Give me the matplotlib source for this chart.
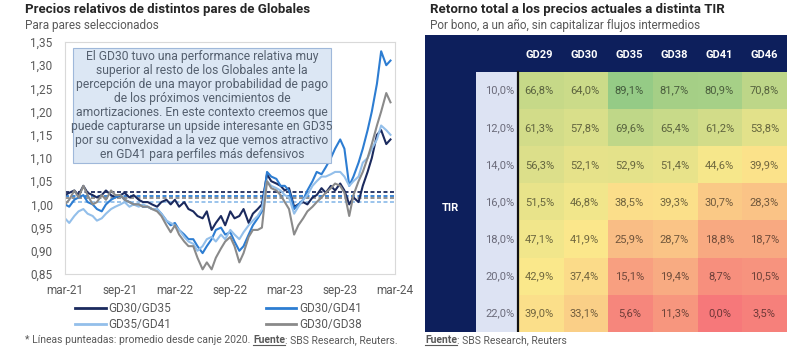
import numpy as np
import pandas as pd
import matplotlib
matplotlib.use('Agg')
import matplotlib.pyplot as plt
from matplotlib.colors import LinearSegmentedColormap, TwoSlopeNorm, to_rgb
from matplotlib.patches import Rectangle
from matplotlib.lines import Line2D
from matplotlib.ticker import FuncFormatter

plt.rcParams['font.family'] = ['Roboto', 'DejaVu Sans']

# ---- left chart data (semi-monthly readings, mar-21 .. feb-24) ----
dates = pd.date_range('2021-03-01', periods=72, freq='SMS')

gd30_gd35 = [1.020, 1.025, 1.030, 1.020, 1.040, 1.025, 1.020, 1.015, 1.020, 1.030, 1.020, 1.015,
             1.020, 1.025, 1.015, 1.020, 1.010, 1.005, 1.005, 1.000, 0.995, 1.005, 1.010, 1.000,
             1.010, 0.995, 1.005, 0.990, 0.985, 0.975, 0.970, 0.985, 0.945, 0.960, 0.975, 0.955,
             0.985, 0.970, 0.975, 0.990, 0.960, 0.980, 0.990, 1.000, 1.065, 1.050, 1.045, 1.040,
             1.030, 1.035, 0.995, 1.000, 1.005, 1.000, 1.015, 1.020, 1.035, 1.025, 1.040, 1.030,
             1.045, 1.030, 1.000, 1.015, 1.005, 1.040, 1.070, 1.100, 1.150, 1.160, 1.130, 1.140]
gd30_gd41 = [1.000, 0.995, 1.010, 1.015, 1.020, 1.005, 1.000, 0.990, 0.985, 1.000, 1.010, 1.015,
             1.020, 1.010, 1.005, 1.000, 1.000, 0.995, 0.995, 0.990, 0.990, 0.980, 0.965, 0.955,
             0.960, 0.945, 0.935, 0.925, 0.925, 0.910, 0.895, 0.910, 0.925, 0.945, 0.950, 0.935,
             0.940, 0.920, 0.900, 0.910, 0.935, 0.955, 0.970, 0.985, 1.070, 1.060, 1.055, 1.040,
             1.040, 1.030, 0.990, 1.000, 1.010, 1.030, 1.050, 1.070, 1.065, 1.080, 1.100, 1.120,
             1.140, 1.120, 1.040, 1.060, 1.090, 1.120, 1.160, 1.200, 1.260, 1.330, 1.300, 1.310]
gd35_gd41 = [0.970, 0.960, 0.975, 0.985, 0.990, 0.980, 0.975, 0.965, 0.970, 0.980, 0.990, 0.995,
             1.000, 1.005, 0.995, 1.000, 0.995, 1.000, 0.995, 0.990, 0.990, 0.980, 0.965, 0.960,
             0.955, 0.945, 0.930, 0.920, 0.915, 0.900, 0.910, 0.925, 0.930, 0.920, 0.935, 0.925,
             0.945, 0.935, 0.925, 0.940, 0.955, 0.965, 0.975, 0.990, 1.050, 1.040, 1.035, 1.030,
             1.020, 1.015, 0.980, 0.995, 1.010, 1.020, 1.040, 1.050, 1.060, 1.060, 1.065, 1.070,
             1.070, 1.060, 1.040, 1.050, 1.060, 1.090, 1.100, 1.120, 1.140, 1.170, 1.160, 1.150]
gd30_gd38 = [1.000, 1.010, 1.030, 1.015, 1.040, 1.020, 1.000, 1.005, 1.020, 1.010, 1.030, 1.020,
             1.020, 1.010, 1.005, 1.000, 1.000, 0.995, 0.995, 0.990, 0.985, 0.975, 0.955, 0.940,
             0.955, 0.935, 0.920, 0.910, 0.910, 0.885, 0.860, 0.875, 0.860, 0.885, 0.905, 0.920,
             0.930, 0.910, 0.875, 0.895, 0.930, 0.945, 0.945, 0.950, 1.050, 1.035, 1.030, 1.020,
             1.005, 0.990, 0.935, 0.955, 0.970, 0.985, 0.995, 1.005, 1.015, 1.025, 1.035, 1.045,
             1.040, 1.025, 0.975, 1.020, 1.050, 1.070, 1.100, 1.130, 1.170, 1.200, 1.240, 1.220]

# promedio desde canje 2020 (dotted lines)
mean_gd30_gd35 = 1.027
mean_gd30_gd41 = 1.019
mean_gd35_gd41 = 1.005
mean_gd30_gd38 = 1.013

xtick_dates = pd.to_datetime(['2021-03-01', '2021-09-01', '2022-03-01', '2022-09-01',
                              '2023-03-01', '2023-09-01', '2024-03-01'])
xtick_labels = ['mar-21', 'sep-21', 'mar-22', 'sep-22', 'mar-23', 'sep-23', 'mar-24']

# ---- right table data ----
bonds = ['GD29', 'GD30', 'GD35', 'GD38', 'GD41', 'GD46']
tir_labels = ['10,0%', '12,0%', '14,0%', '16,0%', '18,0%', '20,0%', '22,0%']
returns = np.array([
    [66.8, 64.0, 89.1, 81.7, 80.9, 70.8],
    [61.3, 57.8, 69.6, 65.4, 61.2, 53.8],
    [56.3, 52.1, 52.9, 51.4, 44.6, 39.9],
    [51.5, 46.8, 38.5, 39.3, 30.7, 28.3],
    [47.1, 41.9, 25.9, 28.7, 18.8, 18.7],
    [42.9, 37.4, 15.1, 19.4, 8.7, 10.5],
    [39.0, 33.1, 5.6, 11.3, 0.0, 3.5],
])

navy = '#0d1f5c'
grey_txt = '#595959'
W, H = 800, 354

fig = plt.figure(figsize=(8, 3.54), dpi=100)

# ================= left: line chart =================
ax = fig.add_axes([65 / W, 1 - 274 / H, 330 / W, 232 / H])
series = [
    ('GD30/GD35', gd30_gd35, mean_gd30_gd35, '#1b2a5e'),
    ('GD30/GD41', gd30_gd41, mean_gd30_gd41, '#2d7dd2'),
    ('GD35/GD41', gd35_gd41, mean_gd35_gd41, '#93bfea'),
    ('GD30/GD38', gd30_gd38, mean_gd30_gd38, '#8a8a8a'),
]
handles = {}
for name, vals, m, col in series:
    ax.axhline(m, color=col, lw=1.3, ls=(0, (2.2, 1.4)), zorder=1)
for name, vals, m, col in series:
    h, = ax.plot(dates, vals, color=col, lw=1.5, zorder=2, label=name)
    handles[name] = h

ax.set_xlim(pd.Timestamp('2021-03-01'), pd.Timestamp('2024-03-01'))
ax.set_ylim(0.85, 1.35)
ax.set_yticks(np.arange(0.85, 1.351, 0.05))
ax.yaxis.set_major_formatter(FuncFormatter(lambda v, p: f'{v:.2f}'.replace('.', ',')))
ax.set_xticks(xtick_dates)
ax.set_xticklabels(xtick_labels)
ax.tick_params(length=0, labelsize=8.5, labelcolor=grey_txt)
ax.tick_params(axis='y', pad=9)
ax.tick_params(axis='x', pad=7)
for s in ax.spines.values():
    s.set_color('#d9d9d9')

# annotation box
ax.add_patch(Rectangle((0.025, 0.48), 0.78, 0.495, transform=ax.transAxes,
                       facecolor='#dce7f4', edgecolor='#9fb8da', lw=0.8, zorder=3))
note = ('El GD30 tuvo una performance relativa muy\n'
        'superior al resto de los Globales ante la\n'
        'percepción de una mayor probabilidad de pago\n'
        'de los próximos vencimientos de\n'
        'amortizaciones. En este contexto creemos que\n'
        'puede capturarse un upside interesante en GD35\n'
        'por su convexidad a la vez que vemos atractivo\n'
        'en GD41 para perfiles más defensivos')
ax.text(0.415, 0.7275, note, transform=ax.transAxes, ha='center', va='center',
        fontsize=8.7, color='#55606f', linespacing=1.1, zorder=4)

order = ['GD30/GD35', 'GD35/GD41', 'GD30/GD41', 'GD30/GD38']
leg = ax.legend([handles[k] for k in order], order, ncol=2, loc='upper center',
                bbox_to_anchor=(0.465, -0.095), frameon=False, fontsize=8.5,
                handlelength=2.6, handletextpad=0.2, columnspacing=8.0,
                labelspacing=0.25, borderpad=0)
for t in leg.get_texts():
    t.set_color(grey_txt)
for l in leg.get_lines():
    l.set_linewidth(2)

fig.text(25 / W, 1 - 10 / H, 'Precios relativos de distintos pares de Globales',
         fontsize=9.5, fontweight='bold', color='#262626', va='center')
fig.text(25 / W, 1 - 25 / H, 'Para pares seleccionados', fontsize=8.5,
         color=grey_txt, va='center')

# ================= right: heatmap table =================
ax2 = fig.add_axes([425 / W, 1 - 332 / H, 362 / W, 297 / H])
ax2.set_xlim(-2.04, 6)
ax2.set_ylim(7, -1)
ax2.axis('off')

cmap = LinearSegmentedColormap.from_list('rg', ['#f6787a', '#fce98c', '#95cb86'])
norm = TwoSlopeNorm(vmin=returns.min(), vcenter=np.median(returns), vmax=returns.max())
ax2.imshow(returns, cmap=cmap, norm=norm, extent=(0.05, 6, 7, 0), aspect='auto',
           interpolation='nearest', zorder=1)

ax2.add_patch(Rectangle((-2.04, -1), 8.04, 1, facecolor=navy, edgecolor='none', zorder=2))
ax2.add_patch(Rectangle((-2.04, -1), 1.14, 8, facecolor=navy, edgecolor='none', zorder=2))
ax2.add_patch(Rectangle((-0.9, 0), 0.9, 7, facecolor='#dde3f3', edgecolor='none', zorder=2))
ax2.plot([0.03, 0.03], [0, 7], color='#111111', lw=1.6, zorder=3)

for j, b in enumerate(bonds):
    ax2.text(j + 0.5, -0.45, b, ha='center', va='center', color='white',
             fontsize=8, fontweight='bold', zorder=4)
for i, lab in enumerate(tir_labels):
    ax2.text(-0.05, i + 0.5, lab, ha='right', va='center', color='#6b6b7a',
             fontsize=8, zorder=4)
    for j in range(len(bonds)):
        v = returns[i, j]
        bg = np.array(to_rgb(cmap(norm(v))))
        ax2.text(j + 0.5, i + 0.5, f'{v:.1f}%'.replace('.', ','), ha='center',
                 va='center', fontsize=8, color=tuple(bg * 0.45), zorder=4)
ax2.text(-1.47, 3.65, 'TIR', ha='center', va='center', color='white',
         fontsize=8, fontweight='bold', zorder=4)

fig.text(430 / W, 1 - 10 / H, 'Retorno total a los precios actuales a distinta TIR',
         fontsize=9.5, fontweight='bold', color='#262626', va='center')
fig.text(430 / W, 1 - 25 / H, 'Por bono, a un año, sin capitalizar flujos intermedios',
         fontsize=8.5, color=grey_txt, va='center')


# ---- footnotes with bold/underlined "Fuente" ----
def rich_line(x_px, y_px, parts, size=7.5):
    renderer = fig.canvas.get_renderer()
    x = x_px
    for txt, bold, under in parts:
        t = fig.text(x / W, 1 - y_px / H, txt, fontsize=size, color=grey_txt,
                     fontweight='bold' if bold else 'normal', va='center')
        bb = t.get_window_extent(renderer)
        if under:
            fig.add_artist(Line2D([bb.x0 / W, bb.x1 / W], [(bb.y0 + 0.5) / H] * 2,
                                  color=grey_txt, lw=0.8))
        x += bb.width


fig.canvas.draw()
rich_line(25, 340, [('* Líneas punteadas: promedio desde canje 2020. ', False, False),
                    ('Fuente', True, True),
                    (': SBS Research, Reuters.', False, False)])
rich_line(425, 340, [('Fuente', True, True), (': SBS Research, Reuters', False, False)])

fig.savefig('out.png', dpi=100)
